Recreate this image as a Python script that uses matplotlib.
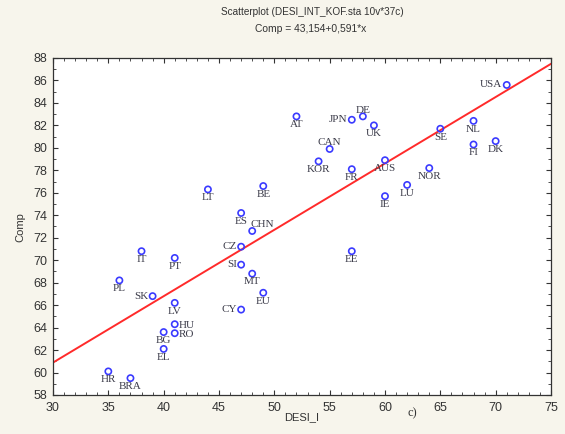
import numpy as np
import matplotlib
matplotlib.use("Agg")
import matplotlib.pyplot as plt
from matplotlib.ticker import MultipleLocator

# data
countries = ["AT", "LT", "BE", "ES", "CHN", "CZ", "IT", "PT", "SI", "MT", "PL",
             "SK", "EU", "LV", "CY", "HU", "BG", "RO", "EL", "HR", "BRA",
             "USA", "JPN", "DE", "UK", "CAN", "KOR", "FR", "AUS", "SE", "NL",
             "FI", "DK", "NOR", "LU", "IE", "EE"]
desi = [52, 44, 49, 47, 48, 47, 38, 41, 47, 48, 36,
        39, 49, 41, 47, 41, 40, 41, 40, 35, 37,
        71, 57, 58, 59, 55, 54, 57, 60, 65, 68,
        68, 70, 64, 62, 60, 57]
comp = [82.8, 76.3, 76.6, 74.2, 72.6, 71.2, 70.8, 70.2, 69.6, 68.8, 68.2,
        66.8, 67.1, 66.2, 65.6, 64.3, 63.6, 63.5, 62.1, 60.1, 59.5,
        85.6, 82.5, 82.8, 82.0, 79.9, 78.8, 78.1, 78.9, 81.7, 82.4,
        80.3, 80.6, 78.2, 76.7, 75.7, 70.8]

# fitted line from the title
intercept = 43.154
slope = 0.591

# label placement (default: centred below the marker)
left_labels = {"CZ", "SI", "SK", "CY", "USA", "JPN"}
right_labels = {"HU", "RO"}
above_labels = {"DE", "CAN"}

fig = plt.figure(figsize=(5.65, 4.34), dpi=100, facecolor="#f7f5ec")
ax = fig.add_axes([0.0938, 0.0899, 0.8814, 0.7765])
ax.set_facecolor("white")

xs = np.array([30, 75])
ax.plot(xs, intercept + slope * xs, color="#ff2a2a", lw=1.4, zorder=2)

ax.scatter(desi, comp, s=20, facecolors="none", edgecolors="#3a3aff",
           linewidths=1.2, zorder=3)

serif = ["Liberation Serif", "DejaVu Serif"]
sans = ["Liberation Sans", "DejaVu Sans"]
for name, x, y in zip(countries, desi, comp):
    if name in left_labels:
        off, ha, va = (-3, 0), "right", "center"
    elif name in right_labels:
        off, ha, va = (3, -1), "left", "center"
    elif name in above_labels:
        off, ha, va = (0, 4.5), "center", "center"
    elif name == "CHN":
        off, ha, va = (7, 4.5), "center", "center"
    else:
        off, ha, va = (0, -6), "center", "center"
    ax.annotate(name, (x, y), xytext=off, textcoords="offset points",
                ha=ha, va=va, fontsize=8, family=serif, color="#3c3c4a",
                zorder=4)

ax.set_xlim(30, 75)
ax.set_ylim(58, 88)
ax.xaxis.set_major_locator(MultipleLocator(5))
ax.xaxis.set_minor_locator(MultipleLocator(1))
ax.yaxis.set_major_locator(MultipleLocator(2))
ax.yaxis.set_minor_locator(MultipleLocator(1))
ax.tick_params(which="both", direction="in", top=True, right=True,
               labelsize=9, labelcolor="#333333", color="#333333")
ax.tick_params(which="major", length=3.5, width=0.8)
ax.tick_params(which="minor", length=2, width=0.6)
ax.tick_params(axis="x", pad=5)
ax.tick_params(axis="y", pad=4)
for lab in ax.get_xticklabels() + ax.get_yticklabels():
    lab.set_family(sans)
for sp in ax.spines.values():
    sp.set_color("#333333")
    sp.set_linewidth(0.9)

fig.text(20 / 565, 1 - 227 / 434, "Comp", fontsize=8, family=sans,
         color="#333333", ha="center", va="center", rotation=90)
fig.text(302 / 565, 1 - 417 / 434, "DESI_I", fontsize=8, family=sans,
         color="#333333", ha="center", va="center")
fig.text(412 / 565, 1 - 413 / 434, "c)", fontsize=9, family=serif,
         color="#333333", ha="center", va="center")
fig.text(312 / 565, 1 - 12 / 434, "Scatterplot (DESI_INT_KOF.sta 10v*37c)",
         fontsize=7.2, family=sans, color="#333333", ha="center", va="center")
fig.text(311 / 565, 1 - 29 / 434, "Comp = 43,154+0,591*x",
         fontsize=7.4, family=sans, color="#333333", ha="center", va="center")

fig.savefig("out.png", dpi=100, facecolor=fig.get_facecolor())
